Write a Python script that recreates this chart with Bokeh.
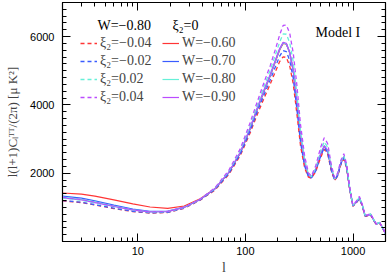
from bokeh.plotting import figure
from bokeh.models import (LogAxis, LinearAxis, Range1d, SingleIntervalTicker, LogTicker,
                          PrintfTickFormatter, CustomJSTickFormatter, Legend, LegendItem, Label)
from bokeh.embed import file_html
from bokeh.resources import INLINE

# multipole l
ell = [2, 3, 4, 6, 9, 13, 19, 27, 38, 52,
       70, 90, 110, 130, 150, 170, 190, 208, 224, 240,
       258, 278, 300, 325, 355, 385, 410, 450, 500, 540,
       580, 630, 675, 720, 770, 820, 870, 930, 995, 1070,
       1145, 1220, 1290, 1370, 1450, 1540, 1640, 1760, 1880, 2000]

# W = -0.80, varying xi_2 (dashed)
xi_m004 = [1190, 1140, 1070, 965, 875, 833, 850, 975, 1210, 1505,
           1960, 2530, 3160, 3750, 4220, 4610, 4980, 5270, 5410, 5390,
           5140, 4620, 3760, 2800, 2150, 1885, 1850, 2050, 2460, 2700,
           2570, 2050, 1790, 1920, 2250, 2420, 2160, 1530, 1030, 1130,
           1250, 1030, 745, 745, 785, 635, 500, 545, 390, 220]
xi_m002 = [1200, 1150, 1080, 975, 885, 840, 855, 980, 1220, 1520,
           1990, 2570, 3220, 3830, 4320, 4730, 5120, 5430, 5590, 5560,
           5300, 4780, 3900, 2900, 2200, 1900, 1860, 2070, 2500, 2750,
           2610, 2070, 1800, 1930, 2270, 2450, 2180, 1540, 1040, 1140,
           1260, 1040, 750, 750, 790, 640, 505, 550, 395, 222]
xi_p002 = [1270, 1210, 1130, 1015, 915, 862, 875, 995, 1235, 1555,
           2050, 2680, 3380, 4030, 4570, 5020, 5470, 5840, 6080, 6070,
           5820, 5260, 4350, 3230, 2390, 1970, 1900, 2150, 2660, 2920,
           2760, 2160, 1830, 1980, 2340, 2520, 2230, 1570, 1060, 1165,
           1300, 1060, 770, 770, 810, 655, 515, 560, 405, 228]
xi_p004 = [1290, 1230, 1150, 1030, 925, 868, 880, 1000, 1240, 1570,
           2080, 2730, 3460, 4130, 4690, 5150, 5630, 6050, 6330, 6340,
           6100, 5520, 4600, 3420, 2500, 2010, 1920, 2220, 2760, 3040,
           2870, 2220, 1860, 2010, 2380, 2570, 2270, 1590, 1070, 1180,
           1320, 1080, 780, 780, 820, 665, 520, 565, 410, 230]

# xi_2 = 0, varying W (solid)
w_m060 = [1420, 1385, 1330, 1220, 1100, 1010, 970, 1040, 1250, 1545,
          2010, 2600, 3270, 3900, 4420, 4850, 5270, 5610, 5800, 5780,
          5530, 5010, 4120, 3070, 2290, 1930, 1875, 2090, 2550, 2790,
          2655, 2100, 1805, 1945, 2295, 2475, 2200, 1550, 1050, 1145,
          1275, 1050, 758, 758, 798, 650, 510, 553, 400, 224]
w_m070 = [1330, 1270, 1190, 1065, 950, 885, 890, 1005, 1232, 1542,
          2015, 2610, 3290, 3920, 4440, 4870, 5290, 5630, 5815, 5790,
          5530, 5000, 4105, 3055, 2282, 1930, 1878, 2098, 2558, 2798,
          2658, 2100, 1808, 1948, 2298, 2478, 2200, 1550, 1050, 1148,
          1278, 1050, 759, 759, 799, 650, 510, 554, 400, 225]
w_m080 = [1300, 1235, 1160, 1040, 930, 870, 880, 1000, 1230, 1540,
          2020, 2620, 3300, 3930, 4450, 4880, 5300, 5640, 5820, 5790,
          5530, 5000, 4100, 3050, 2280, 1930, 1880, 2100, 2560, 2800,
          2660, 2100, 1810, 1950, 2300, 2480, 2200, 1550, 1050, 1150,
          1280, 1050, 760, 760, 800, 650, 510, 555, 400, 225]
w_m090 = [1280, 1215, 1140, 1025, 920, 865, 876, 998, 1228, 1540,
          2025, 2630, 3310, 3945, 4465, 4895, 5315, 5655, 5835, 5805,
          5540, 5005, 4100, 3048, 2278, 1930, 1882, 2102, 2562, 2802,
          2662, 2100, 1812, 1952, 2302, 2482, 2200, 1550, 1050, 1152,
          1282, 1050, 761, 761, 801, 650, 510, 556, 400, 225]

dashed_labels = ["ξ₂=−0.04", "ξ₂=−0.02", "ξ₂=0.02", "ξ₂=0.04"]
solid_labels = ["W=−0.60", "W=−0.70", "W=−0.80", "W=−0.90"]
colors = ["#ff3535", "#3a5cff", "#66f0d8", "#bb4cff"]

SERIF = "Liberation Serif"
SANS = "Liberation Sans"

p = figure(width=388, height=277, x_axis_type="log",
           x_range=Range1d(2, 2000), y_range=Range1d(0, 7000),
           output_backend="svg", toolbar_location=None,
           min_border_left=62, min_border_right=3, min_border_top=2, min_border_bottom=31,
           margin=(0, 0, 0, 0))
p.background_fill_color = "white"
p.border_fill_color = "white"
p.outline_line_color = "black"
p.outline_line_width = 1.2
p.xgrid.visible = False
p.ygrid.visible = False

solid_r = []
for vals, c in zip([w_m060, w_m070, w_m080, w_m090], colors):
    solid_r.append(p.line(ell, vals, line_color=c, line_width=1.2))
dashed_r = []
for vals, c in zip([xi_m004, xi_m002, xi_p002, xi_p004], colors):
    dashed_r.append(p.line(ell, vals, line_color=c, line_width=1.3, line_dash="4 3"))

# axes
xt = LogTicker(num_minor_ticks=10)
yt = SingleIntervalTicker(interval=2000, num_minor_ticks=10)


def style_axis(ax, labels=True):
    ax.major_tick_in = 8
    ax.major_tick_out = 0
    ax.minor_tick_in = 4
    ax.minor_tick_out = 0
    ax.axis_line_color = "black"
    ax.major_tick_line_color = "black"
    ax.minor_tick_line_color = "black"
    if labels:
        ax.major_label_text_font = SANS
        ax.major_label_text_font_size = "11px"
        ax.major_label_text_color = "black"
    else:
        ax.formatter = CustomJSTickFormatter(code="return ''")
        ax.major_label_text_font_size = "1px"
        ax.major_label_standoff = 0


bx = p.xaxis[0]
bx.ticker = xt
bx.formatter = PrintfTickFormatter(format="%d")
style_axis(bx)
bx.major_label_standoff = 5
bx.axis_label = "l"
bx.axis_label_text_font = SERIF
bx.axis_label_text_font_size = "14px"
bx.axis_label_text_font_style = "normal"
bx.axis_label_standoff = 2

ly = p.yaxis[0]
ly.ticker = yt
ly.major_label_overrides = {0: ""}
style_axis(ly)
ly.major_label_standoff = 8
ly.axis_label = "l(l+1)Cₗᵀᵀ/(2π) [μ K²]"
ly.axis_label_text_font = SERIF
ly.axis_label_text_font_size = "13px"
ly.axis_label_text_font_style = "normal"
ly.axis_label_standoff = 7

tx = LogAxis(ticker=LogTicker(num_minor_ticks=10))
style_axis(tx, labels=False)
p.add_layout(tx, "above")
ry = LinearAxis(ticker=SingleIntervalTicker(interval=2000, num_minor_ticks=10))
style_axis(ry, labels=False)
p.add_layout(ry, "right")

# legends
def make_legend(items, loc):
    leg = Legend(items=items, location=loc, orientation="vertical",
                 border_line_color=None, background_fill_alpha=0,
                 padding=0, margin=0, spacing=0,
                 label_height=18, glyph_height=18, glyph_width=17,
                 label_standoff=3, label_text_font=SERIF,
                 label_text_font_size="14px")
    return leg


leg1 = make_legend([LegendItem(label=l, renderers=[r]) for l, r in zip(dashed_labels, dashed_r)], (18, 135))
leg2 = make_legend([LegendItem(label=l, renderers=[r]) for l, r in zip(solid_labels, solid_r)], (100, 135))
p.add_layout(leg1)
p.add_layout(leg2)

for txt, x, y in [("W=−0.80", 35, 216), ("ξ₂=0", 110, 216), ("Model I", 253, 209)]:
    p.add_layout(Label(x=x, y=y, x_units="screen", y_units="screen", text=txt,
                       text_font=SERIF, text_font_size="14px", text_baseline="middle",
                       text_color="black"))

open("out.html", "w").write(file_html(p, INLINE))
